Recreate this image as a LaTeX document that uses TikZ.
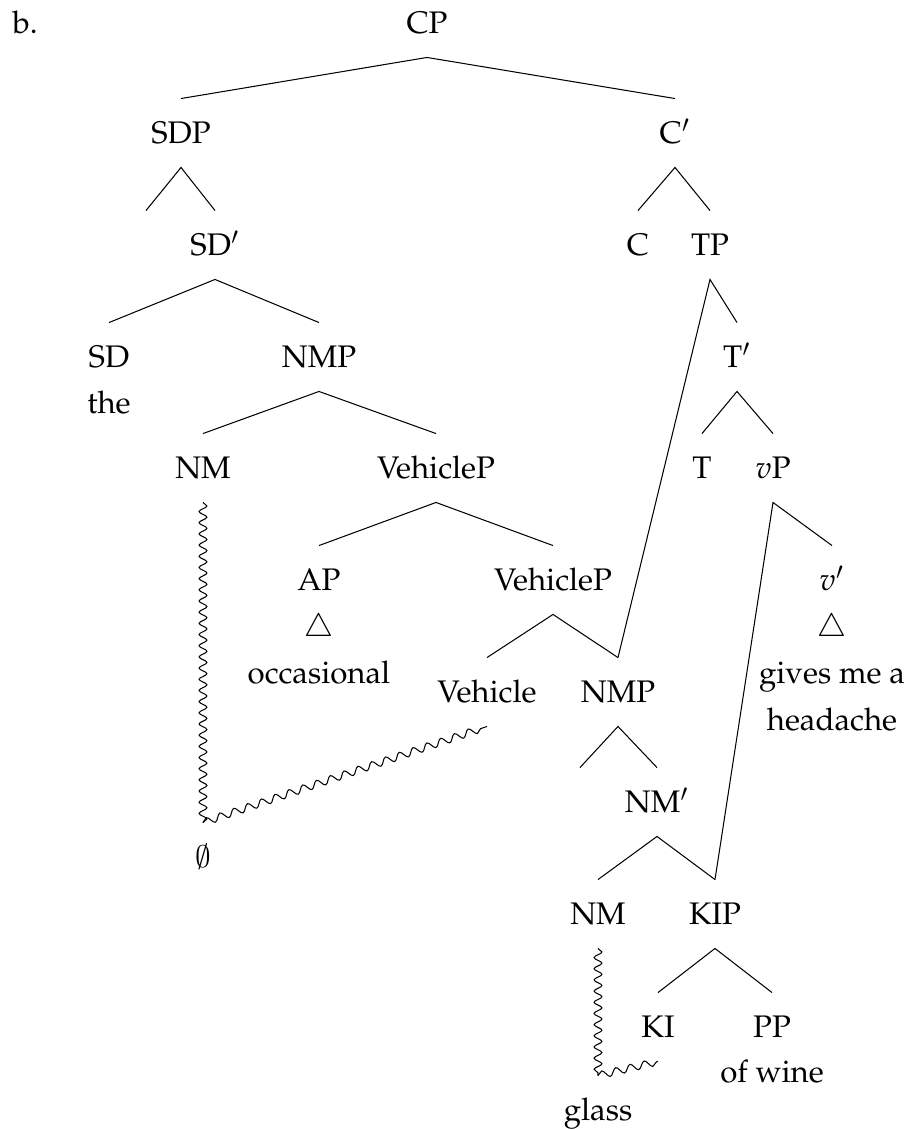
\documentclass[tikz,border=0pt]{standalone}
\usepackage[T1]{fontenc}
\usepackage{mathpazo}
\usetikzlibrary{decorations.pathmorphing}
% the tall Computer Modern empty-set glyph
\DeclareSymbolFont{cmsyms}{OMS}{cmsy}{m}{n}
\DeclareMathSymbol{\cmnull}{\mathord}{cmsyms}{"3B}
\begin{document}
\begin{tikzpicture}[x=0.3846pt, y=-0.3846pt,
  lab/.style={inner xsep=0pt, inner ysep=8.9pt, text height=8.3pt, text depth=0pt,
    font=\fontsize{12}{14.5}\selectfont},
  branch/.style={line width=0.4pt},
  wavyv/.style={line width=0.4pt, decorate, decoration={snake, segment length=4.3pt, amplitude=1.5pt}},
  wavyd/.style={line width=0.4pt, decorate, decoration={snake, segment length=5.6pt, amplitude=1.4pt}}]
\useasboundingbox (0,0) rectangle (909,1129);

% example label
\node[lab, anchor=west] (lbl) at (12,23) {b.};

% tree nodes, level by level
\node[lab] (CP) at (427,23) {CP};

\node[lab] (SDP) at (181,133) {SDP};
\node[lab] (Cbar) at (675,133) {C$'$};

\node[lab] (spec) at (146,245) {};
\node[lab] (SDbar) at (215,245) {SD$'$};
\node[lab] (C) at (638,245) {C};
\node[lab] (TP) at (710,245) {TP};

\node[lab] (SD) at (109,357) {SD};
\node[lab] (the) at (109,403) {the};
\node[lab] (NMP) at (319,357) {NMP};
\node[lab] (Tbar) at (737,357) {T$'$};

\node[lab] (NM) at (203,468) {NM};
\node[lab] (VehP) at (436,468) {VehicleP};
\node[lab] (T) at (702,468) {T};
\node[lab] (vP) at (773,468) {$v$P};

\node[lab] (AP) at (319,580) {AP};
\node[lab] (triA) at (319,626) {$\triangle$};
\node[lab] (occ) at (319,673) {occasional};
\node[lab] (VehPb) at (553,580) {VehicleP};
\node[lab] (vbar) at (832,580) {$v'$};
\node[lab] (triV) at (832,626) {$\triangle$};
\node[lab] (gives) at (832,673) {gives me a};
\node[lab] (head) at (832,720) {headache};

\node[lab] (Veh) at (487,692) {Vehicle};
\node[lab] (NMPb) at (618,692) {NMP};

\node[lab] (specb) at (580,802) {};
\node[lab] (NMbar) at (657,802) {NM$'$};

\node[lab] (null) at (203,857) {$\cmnull$};

\node[lab] (NMb) at (598,914) {NM};
\node[lab] (KIP) at (715,914) {KIP};

\node[lab] (KI) at (658,1027) {KI};
\node[lab] (PP) at (772,1027) {PP};
\node[lab] (wine) at (772,1072) {of wine};
\node[lab] (glass) at (598,1110) {glass};

% branches
\draw[branch] (SDP.north) -- (CP.south) -- (Cbar.north);
\draw[branch] (spec.north) -- (SDP.south) -- (SDbar.north);
\draw[branch] (C.north) -- (Cbar.south) -- (TP.north);
\draw[branch] (SD.north) -- (SDbar.south) -- (NMP.north);
\draw[branch] (NMPb.north) -- (TP.south) -- (Tbar.north);
\draw[branch] (NM.north) -- (NMP.south) -- (VehP.north);
\draw[branch] (T.north) -- (Tbar.south) -- (vP.north);
\draw[branch] (AP.north) -- (VehP.south) -- (VehPb.north);
\draw[branch] (KIP.north) -- (vP.south) -- (vbar.north);
\draw[branch] (Veh.north) -- (VehPb.south) -- (NMPb.north);
\draw[branch] (specb.north) -- (NMPb.south) -- (NMbar.north);
\draw[branch] (NMb.north) -- (NMbar.south) -- (KIP.north);
\draw[branch] (KI.north) -- (KIP.south) -- (PP.north);

% wavy links
\draw[wavyv] (NM.south) -- (null.north);
\draw[wavyd] (null.north) -- (Veh.south);
\draw[wavyv] (NMb.south) -- (glass.north);
\draw[wavyd] (glass.north) -- (KI.south);
\end{tikzpicture}
\end{document}
